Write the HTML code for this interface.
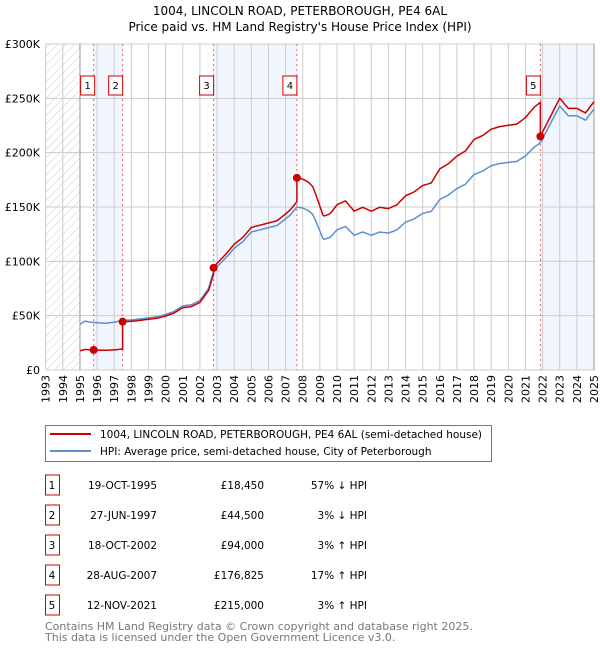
<!DOCTYPE html>
<html><head><meta charset="utf-8"><style>
body{margin:0;background:#fff;font-family:"DejaVu Sans","Liberation Sans",sans-serif;}
svg text{font-family:"DejaVu Sans","Liberation Sans",sans-serif;}
</style></head><body>
<svg id="c" width="600" height="650" xmlns="http://www.w3.org/2000/svg">
<text x="300" y="15" text-anchor="middle" font-size="12">1004, LINCOLN ROAD, PETERBOROUGH, PE4 6AL</text>
<text x="300" y="31" text-anchor="middle" font-size="12">Price paid vs. HM Land Registry's House Price Index (HPI)</text>
<defs><pattern id="hatch" width="6" height="6" patternUnits="userSpaceOnUse" patternTransform="rotate(45)"><line x1="0" y1="0" x2="0" y2="6" stroke="#ccc" stroke-width="1"/></pattern></defs>
<g id="plot"></g>
<g>
<rect x="45.5" y="425.5" width="446" height="36" fill="#fff" stroke="#777"/>
<line x1="50" y1="434" x2="91" y2="434" stroke="#cc0000" stroke-width="2"/>
<text x="100" y="438" font-size="10.5">1004, LINCOLN ROAD, PETERBOROUGH, PE4 6AL (semi-detached house)</text>
<line x1="50" y1="451" x2="91" y2="451" stroke="#5b8fd0" stroke-width="2"/>
<text x="100" y="455" font-size="10.5">HPI: Average price, semi-detached house, City of Peterborough</text>
</g>
<g id="table"></g>
<text x="45" y="630" font-size="11" fill="#777">Contains HM Land Registry data © Crown copyright and database right 2025.</text>
<text x="45" y="641" font-size="11" fill="#777">This data is licensed under the Open Government Licence v3.0.</text>
</svg>
<script>
const hpiYears=[1995,1995.3,1995.6,1996,1996.5,1997,1997.5,1998,1998.5,1999,1999.5,2000,2000.5,2001,2001.5,2002,2002.5,2002.8,2003,2003.5,2004,2004.5,2005,2005.5,2006,2006.5,2007,2007.3,2007.66,2008,2008.3,2008.6,2009,2009.2,2009.6,2010,2010.5,2011,2011.5,2012,2012.5,2013,2013.5,2014,2014.5,2015,2015.5,2016,2016.5,2017,2017.5,2018,2018.5,2019,2019.5,2020,2020.5,2021,2021.5,2021.87,2022,2022.5,2023,2023.5,2024,2024.5,2025];
const hpiValues=[42,45,44,43.5,43,44,45.8,46,47,48,49,51,54,59,60,64,75,91,95,103,112,118,127,129,131,133,139,143,150,149,147,143,128,120,122,129,132,124,127,124,127,126,129,136,139,144,146,157,161,167,171,180,183,188,190,191,192,197,205,209,213,228,243,234,234,230,240];
const saleYears=[1995.8,1997.49,2002.8,2007.66,2021.87];
const salePrices=[18450,44500,94000,176825,215000];
const saleLabels=["1","2","3","4","5"];
const saleDates=["19-OCT-1995","27-JUN-1997","18-OCT-2002","28-AUG-2007","12-NOV-2021"];
const salePriceText=["£18,450","£44,500","£94,000","£176,825","£215,000"];
const saleHpiText=["57% ↓ HPI","3% ↓ HPI","3% ↑ HPI","17% ↑ HPI","3% ↑ HPI"];
const yTicks=[0,50000,100000,150000,200000,250000,300000];
const yTickLabels=["£0","£50K","£100K","£150K","£200K","£250K","£300K"];
const NS="http://www.w3.org/2000/svg";
const L=45.7,R=594,T=44,B=370,Y0=1993,Y1=2025;
const xs=y=>L+(y-Y0)*(R-L)/(Y1-Y0);
const ys=v=>B-v*(B-T)/300000;
const g=document.getElementById('plot');
function mk(t,a,p){const e=document.createElementNS(NS,t);for(const k in a)e.setAttribute(k,a[k]);(p||g).appendChild(e);return e;}
function hpiAt(y){if(y<=hpiYears[0])return hpiValues[0]*1000;for(let i=1;i<hpiYears.length;i++){if(y<=hpiYears[i]){const f=(y-hpiYears[i-1])/(hpiYears[i]-hpiYears[i-1]);return 1000*(hpiValues[i-1]+f*(hpiValues[i]-hpiValues[i-1]));}}return hpiValues[hpiValues.length-1]*1000;}
let e=mk('rect',{x:xs(1993),y:T,width:xs(1995)-xs(1993),height:B-T,fill:'url(#hatch)'});

const bands=[[saleYears[0],saleYears[1]],[saleYears[2],saleYears[3]],[saleYears[4],2025]];
bands.forEach(b=>{const r=mk('rect',{x:xs(b[0]),y:T,width:xs(b[1])-xs(b[0]),height:B-T,fill:'#f1f5fd'});
});
for(let y=Y0;y<=Y1;y++){const l=mk('line',{x1:xs(y),x2:xs(y),y1:T,y2:B,stroke:'#ccc','stroke-width':1});

const t=mk('text',{x:0,y:0,'font-size':11,'text-anchor':'end',transform:`translate(${xs(y)+4},${B+5}) rotate(-90)`});t.textContent=y;
}
yTicks.forEach((v,i)=>{const l=mk('line',{x1:L,x2:R,y1:ys(v),y2:ys(v),stroke:'#ccc','stroke-width':1});

const t=mk('text',{x:40,y:ys(v)+4,'font-size':11,'text-anchor':'end'});t.textContent=yTickLabels[i];
});
e=mk('line',{x1:xs(1995),x2:xs(1995),y1:T,y2:B,stroke:'#999'});
e=mk('line',{x1:R,x2:R,y1:T,y2:B,stroke:'#999'});
saleYears.forEach((sy,i)=>{const l=mk('line',{x1:xs(sy),x2:xs(sy),y1:T,y2:B,stroke:'#f06060','stroke-dasharray':'2,3','stroke-width':1});

const r=mk('rect',{x:xs(sy)-(i==0?13:14),y:76,width:14,height:19,fill:'#fff',stroke:'#cc0000'});

const t=mk('text',{x:+r.getAttribute('x')+7,y:89,'font-size':10,'text-anchor':'middle'});t.textContent=saleLabels[i];
});
let d='';const step=[];for(let y=1995;y<=2025.001;y+=1/12)step.push(y);
step.forEach((y,i)=>{d+=(i?'L':'M')+xs(y).toFixed(1)+','+ys(hpiAt(y)).toFixed(1);});
e=mk('path',{d:d,fill:'none',stroke:'#5b8fd0','stroke-width':1.5});
function priceAt(y){let k=0;for(let i=0;i<saleYears.length;i++)if(y>=saleYears[i])k=i;return hpiAt(y)*salePrices[k]/hpiAt(saleYears[k]);}
const pts=[...step];saleYears.forEach(s=>{pts.push(s-0.001);pts.push(s);});pts.sort((a,b)=>a-b);
d='';pts.forEach((y,i)=>{d+=(i?'L':'M')+xs(y).toFixed(1)+','+ys(priceAt(y)).toFixed(1);});
e=mk('path',{d:d,fill:'none',stroke:'#cc0000','stroke-width':1.5});
saleYears.forEach((sy,i)=>{const c=mk('circle',{cx:xs(sy),cy:ys(salePrices[i]),r:4,fill:'#cc0000'});
});
const tb=document.getElementById('table');
saleYears.forEach((s,i)=>{const cy=485+i*30;
let r=mk('rect',{x:45.5,y:cy-10,width:14,height:20,fill:'#fff',stroke:'#cc0000'},tb);
const cells=[[52,'middle',saleLabels[i],'table-sale-number'],[157,'end',saleDates[i],'table-sale-date'],[264,'end',salePriceText[i],'table-sale-price'],[367,'end',saleHpiText[i],'table-sale-hpi-diff']];
cells.forEach(c=>{const t=mk('text',{x:c[0],y:cy+4,'font-size':10.5,'text-anchor':c[1]},tb);t.textContent=c[2];
});});
</script>
</body></html>
